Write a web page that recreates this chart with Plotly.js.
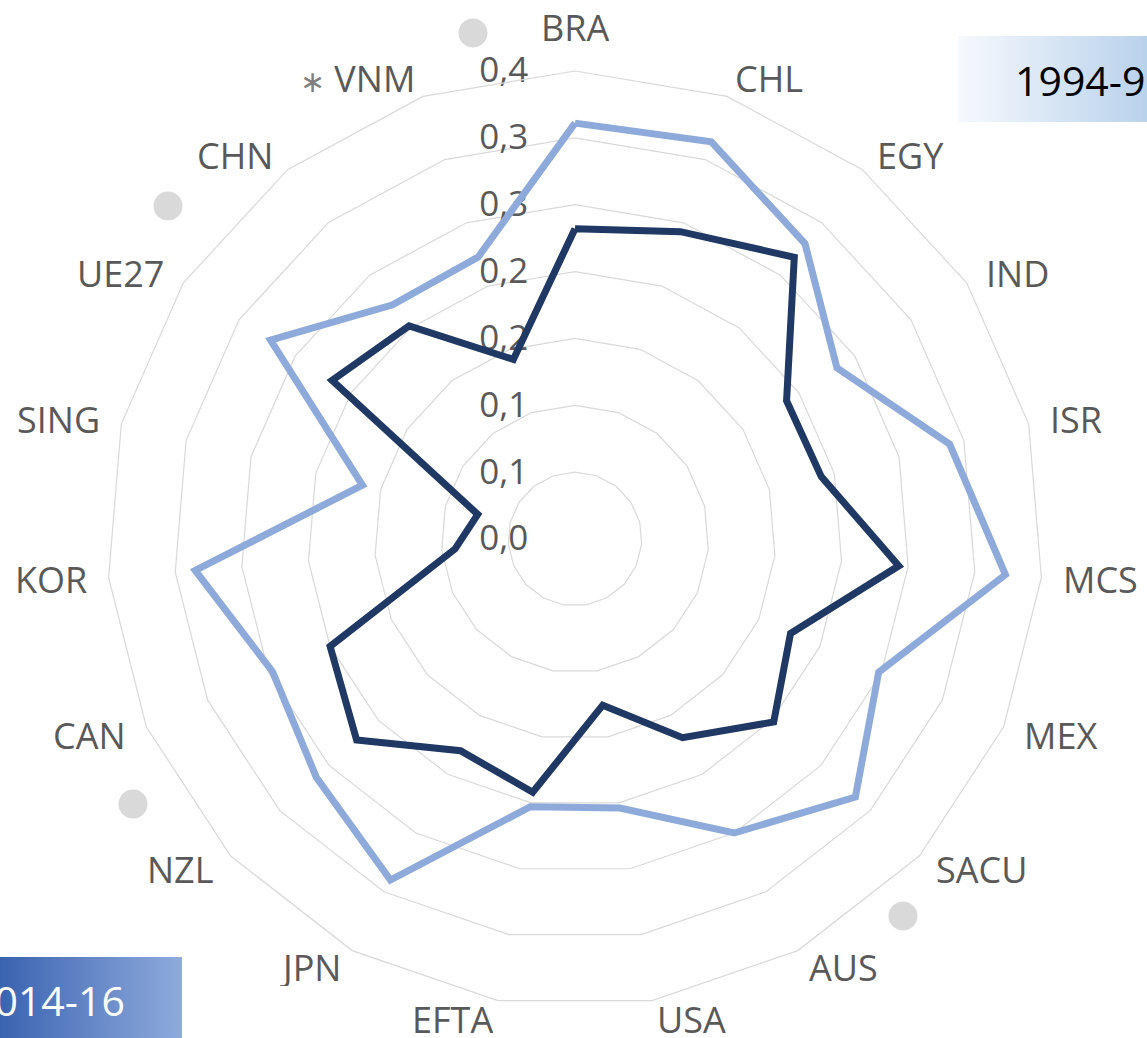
<!DOCTYPE html>
<html>
<head>
<meta charset="utf-8">
<script src="https://cdn.plot.ly/plotly-3.0.1.min.js"></script>
<style>
  html, body { margin: 0; padding: 0; background: #ffffff; }
  #chart { width: 1147px; height: 1038px; }
</style>
</head>
<body>
<div id="chart"></div>
<script>
// ---- data ----
const categories = ['BRA','CHL','EGY','IND','ISR','MCS','MEX','SACU','AUS','USA','EFTA','JPN','NZL','CAN','KOR','SING','UE27','CHN','VNM'];
const categoryLabels = ['BRA','CHL','EGY','IND','ISR','MCS','MEX','SACU','AUS','USA','EFTA','JPN','NZL','CAN','KOR','SING','UE27','CHN','<span style="font-size:30px;fill:#7f7f7f">\u2217</span> VNM'];
const series1994 = [0.311,0.314,0.280,0.234,0.289,0.323,0.248,0.285,0.250,0.204,0.203,0.290,0.263,0.247,0.285,0.164,0.272,0.222,0.223];
const series2014 = [0.232,0.243,0.267,0.189,0.190,0.243,0.176,0.202,0.169,0.126,0.192,0.180,0.222,0.200,0.090,0.075,0.217,0.202,0.142];
const radialTickVals = [0, 0.05, 0.10, 0.15, 0.20, 0.25, 0.30, 0.35];
const radialTickText = ['0,0','0,1','0,1','0,2','0,2','0,3','0,3','0,4'];
const seriesNames = ['1994-96', '2014-16'];

// ---- helpers ----
const W = 1147, H = 1038;
const px = x => x / W;
const py = y => 1 - y / H;
const close = a => a.concat([a[0]]);

// polar frame (pixels)
const CX = 575, CY = 539, R = 468;

const labelFont = {family: 'Open Sans, sans-serif', size: 36, color: '#595959'};

const traces = [
  {
    type: 'scatterpolar', mode: 'lines', name: seriesNames[0],
    theta: close(categories), r: close(series1994),
    line: {color: '#8EAADB', width: 7, shape: 'linear'},
    hoverinfo: 'skip'
  },
  {
    type: 'scatterpolar', mode: 'lines', name: seriesNames[1],
    theta: close(categories), r: close(series2014),
    line: {color: '#1F3864', width: 7, shape: 'linear'},
    hoverinfo: 'skip'
  }
];

function gradImg(c1, c2) {
  const svg = '<svg xmlns="http://www.w3.org/2000/svg" width="200" height="100" preserveAspectRatio="none">' +
    '<defs><linearGradient id="g" x1="0" y1="0" x2="1" y2="0">' +
    '<stop offset="0" stop-color="' + c1 + '"/><stop offset="1" stop-color="' + c2 + '"/>' +
    '</linearGradient></defs><rect width="200" height="100" fill="url(#g)"/></svg>';
  return 'data:image/svg+xml;base64,' + btoa(svg);
}

// category labels placed Excel-style around the outer polygon
const n = categories.length;
const catAnnotations = categoryLabels.map((lab, i) => {
  const a = i * 2 * Math.PI / n;
  const s = Math.sin(a), c = Math.cos(a);
  const vx = CX + R * s, vy = CY - R * c;
  const top = Math.abs(s) < 0.1 && c > 0;
  return {
    text: lab, xref: 'paper', yref: 'paper', x: px(vx), y: py(vy),
    xanchor: s > 0.1 ? 'left' : (s < -0.1 ? 'right' : 'center'),
    yanchor: top ? 'bottom' : 'middle',
    xshift: 20 * s, yshift: top ? 23 : 19 * c,
    height: 38, valign: 'middle',
    showarrow: false, font: labelFont
  };
});

const dots = [[473, 33], [168, 206], [133, 804], [903, 916]];
const dotR = 14.5;

const layout = {
  width: W, height: H,
  margin: {l: 0, r: 0, t: 0, b: 0, pad: 0},
  paper_bgcolor: '#ffffff',
  showlegend: false,
  polar: {
    domain: {x: [px(CX - R), px(CX + R)], y: [py(CY + R), py(CY - R)]},
    gridshape: 'linear',
    bgcolor: 'rgba(0,0,0,0)',
    angularaxis: {
      type: 'category',
      categoryorder: 'array', categoryarray: categories,
      direction: 'clockwise', rotation: 90,
      showgrid: false,
      showline: true, linecolor: '#d9d9d9', linewidth: 1.2,
      ticks: '', showticklabels: false
    },
    radialaxis: {
      range: [0, 0.35],
      angle: 90, side: 'counterclockwise',
      tickmode: 'array', tickvals: radialTickVals, ticktext: radialTickText,
      showline: false,
      gridcolor: '#d9d9d9', gridwidth: 1.2,
      ticks: 'outside', ticklen: 34, tickcolor: 'rgba(0,0,0,0)',
      tickangle: 90,
      tickfont: {family: 'Open Sans, sans-serif', size: 35, color: '#595959'},
      layer: 'below traces'
    }
  },
  images: [
    {source: gradImg('#F6F9FD', '#B9D2EC'), xref: 'paper', yref: 'paper',
     x: px(958), y: py(36), sizex: px(1147) - px(958), sizey: py(36) - py(122),
     xanchor: 'left', yanchor: 'top', sizing: 'stretch', layer: 'below'},
    {source: gradImg('#3A63B0', '#8FABDD'), xref: 'paper', yref: 'paper',
     x: 0, y: py(957), sizex: px(182), sizey: py(957) - py(1038),
     xanchor: 'left', yanchor: 'top', sizing: 'stretch', layer: 'below'}
  ],
  annotations: catAnnotations.concat([
    {text: seriesNames[0], xref: 'paper', yref: 'paper', x: px(1013), y: py(80),
     xanchor: 'left', yanchor: 'middle', showarrow: false,
     font: {family: 'Open Sans, sans-serif', size: 41, color: '#000000'}},
    {text: seriesNames[1], xref: 'paper', yref: 'paper', x: px(127), y: py(1000),
     xanchor: 'right', yanchor: 'middle', showarrow: false,
     font: {family: 'Open Sans, sans-serif', size: 41, color: '#ffffff'}}
  ]),
  shapes: dots.map(d => ({
    type: 'circle', xref: 'paper', yref: 'paper',
    x0: px(d[0] - dotR), x1: px(d[0] + dotR), y0: py(d[1] + dotR), y1: py(d[1] - dotR),
    fillcolor: '#D9D9D9', line: {width: 0}, layer: 'above'
  }))
};

Plotly.newPlot('chart', traces, layout, {displayModeBar: false, staticPlot: true});
</script>
</body>
</html>
